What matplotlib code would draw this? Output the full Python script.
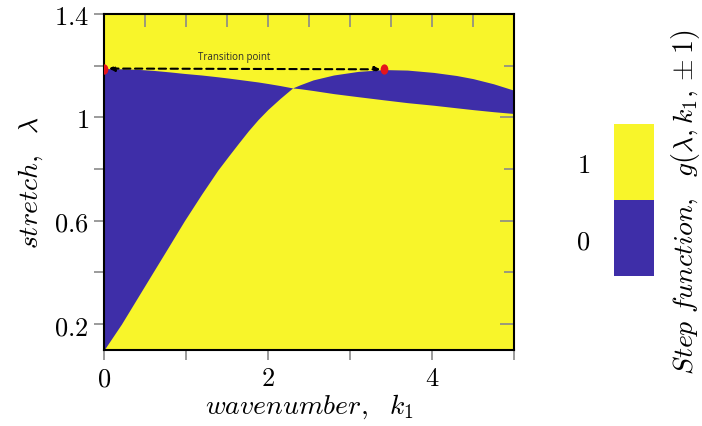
import matplotlib
matplotlib.use("Agg")
import matplotlib.pyplot as plt
from matplotlib.colors import ListedColormap, BoundaryNorm
from matplotlib.cm import ScalarMappable
from matplotlib.path import Path
from matplotlib.transforms import Affine2D
import numpy as np

plt.rcParams['mathtext.fontset'] = 'cm'
plt.rcParams['font.family'] = ['DejaVu Sans']

# boundary curves of the step function g
k1 = [0.0, 0.212, 0.4, 0.596, 0.8, 0.98, 1.19, 1.388, 1.52, 1.64, 1.76, 1.88, 2.0, 2.15, 2.30,
      2.39, 2.55, 2.8, 3.1, 3.41, 3.7, 4.02, 4.3, 4.5, 4.75, 5.0]
curve_a = [1.189, 1.188, 1.186, 1.182, 1.176, 1.170, 1.164, 1.157, 1.152, 1.147, 1.142, 1.137, 1.131, 1.123, 1.114,
           1.111, 1.104, 1.092, 1.080, 1.068, 1.057, 1.047, 1.037, 1.030, 1.022, 1.015]
curve_b = [0.100, 0.200, 0.298, 0.400, 0.506, 0.600, 0.703, 0.796, 0.851, 0.900, 0.948, 0.992, 1.031, 1.074, 1.114,
           1.126, 1.145, 1.164, 1.178, 1.185, 1.183, 1.174, 1.162, 1.150, 1.130, 1.105]

trans_k = [0.0, 3.42]
trans_lam = [1.189, 1.186]

xticks = [0, 2, 4]
xticklabels = ['0', '2', '4']
yticks = [0.2, 0.6, 1.0, 1.4]
yticklabels = ['0.2', '0.6', '1', '1.4']
cbar_levels = [0, 1]
cbar_labels = ['0', '1']

blue = '#3E2EA8'
yellow = '#F8F52A'

fig = plt.figure(figsize=(7.02, 4.27), dpi=100)
ax = fig.add_axes([104/702, 1-351/427, 410/702, 336/427])
ax.set_facecolor(yellow)
ax.fill_between(k1, curve_a, curve_b, color=blue, lw=0, zorder=1)
ax.set_xlim(0, 5)
ax.set_ylim(0.1, 1.4)

# ticks
tick_color = '#8a8a8a'
ax.set_xticks(xticks)
ax.set_xticklabels(['$%s$' % t for t in xticklabels])
ax.set_xticks([1, 3, 5], minor=True)
ax.set_yticks(yticks)
ax.set_yticklabels(['$%s$' % t for t in yticklabels])
ax.set_yticks([0.4, 0.8, 1.2], minor=True)
ax.tick_params(axis='both', which='both', direction='out', length=7, width=1.2,
               color=tick_color, labelsize=19, pad=4)
# top ticks (inward, every 0.5)
secx = ax.secondary_xaxis('top')
secx.set_xticks(np.arange(0, 5.01, 0.5))
secx.tick_params(direction='in', length=9, width=1.2, color=tick_color, labeltop=False)
secx.spines['top'].set_visible(False)
# right ticks (inward)
secy = ax.secondary_yaxis('right')
secy.set_yticks([0.2, 0.6, 1.0, 1.4])
secy.set_yticks([0.4, 0.8, 1.2], minor=True)
secy.tick_params(which='major', direction='in', length=10, width=1.2, color=tick_color, labelright=False)
secy.tick_params(which='minor', direction='in', length=7, width=1.2, color=tick_color, labelright=False)
secy.spines['right'].set_visible(False)

for s in ax.spines.values():
    s.set_linewidth(1.5)
    s.set_color('black')

ax.set_xlabel(r'$wavenumber,\ \ k_1$', fontsize=20, labelpad=0)
ax.set_ylabel(r'$stretch,\ \ \lambda$', fontsize=20, labelpad=6)

# transition annotation
ax.annotate('', xy=(trans_k[1] - 0.05, trans_lam[1]), xytext=(trans_k[0] + 0.06, trans_lam[0]),
            arrowprops=dict(arrowstyle='<|-|>', linestyle=(0, (3.5, 2.2)), lw=1.5, color='black',
                            mutation_scale=8, shrinkA=0, shrinkB=0), zorder=4)
ellipse = Path.unit_circle().transformed(Affine2D().scale(0.75, 1.0))
ax.scatter(trans_k, trans_lam, s=55, color='#E5141B', marker=ellipse, zorder=5, lw=0, clip_on=True)
ax.text(1.59, 1.236, 'Transition point', fontsize=7,
        family=['Liberation Sans Narrow', 'Open Sans'], color='#2b2b2b',
        ha='center', va='center', zorder=5)

# colorbar
cax = fig.add_axes([614/702, 1-277/427, 40/702, 152/427])
cmap = ListedColormap([blue, yellow])
norm = BoundaryNorm([-0.5, 0.5, 1.5], cmap.N)
cb = fig.colorbar(ScalarMappable(norm=norm, cmap=cmap), cax=cax, ticks=cbar_levels)
cb.outline.set_visible(False)
cax.minorticks_off()
cax.yaxis.set_ticks_position('left')
cax.set_yticklabels(['$%s$' % t for t in cbar_labels])
cax.tick_params(which='both', length=0, labelsize=19, pad=17)
fig.text(685/702, 1-202/427, r'$Step\ function,\ \ g(\lambda, k_1, \pm 1)$', rotation=90,
         fontsize=20, ha='center', va='center')

fig.savefig('out.png', dpi=100)
